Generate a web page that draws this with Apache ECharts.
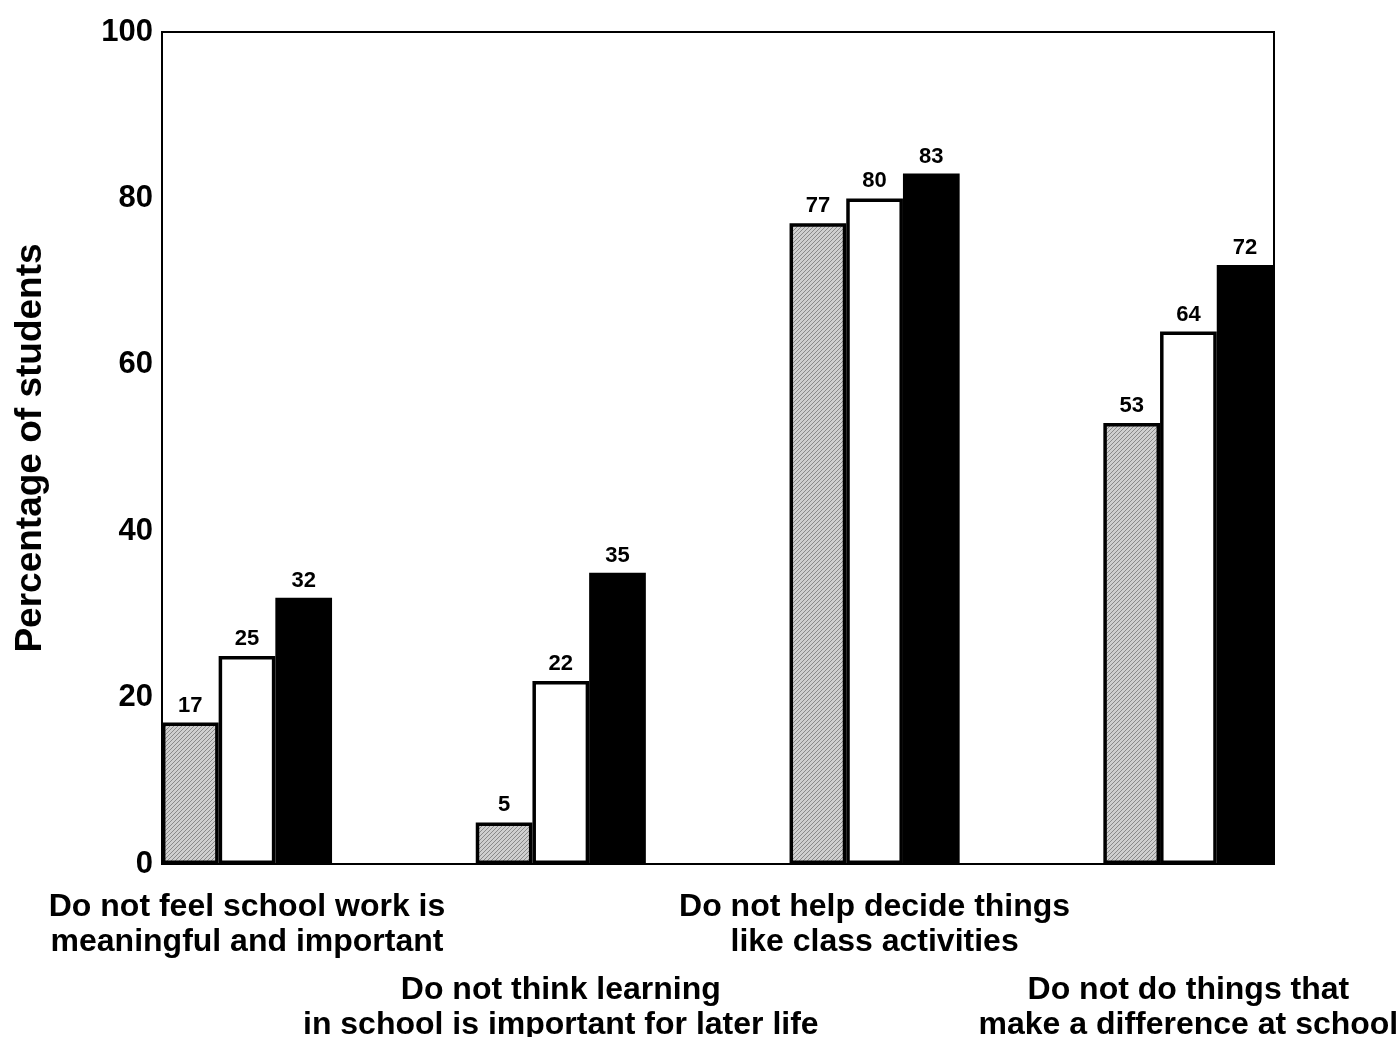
<!DOCTYPE html>
<html><head><meta charset="utf-8">
<script src="https://cdn.jsdelivr.net/npm/echarts@6/dist/echarts.min.js"></script>
<style>html,body{margin:0;padding:0;background:#fff}#c{width:1400px;height:1037px}</style>
</head><body><div id="c"></div>
<script>
const categories = [
  'Do not feel school work is\nmeaningful and important',
  'Do not think learning\nin school is important for later life',
  'Do not help decide things\nlike class activities',
  'Do not do things that\nmake a difference at school'
];
const seriesA = [17, 5, 77, 53];   // hatched
const seriesB = [25, 22, 80, 64];  // white
const seriesC = [32, 35, 83, 72];  // black
const yTicks = [0, 20, 40, 60, 80, 100];

function hatch() {
  const c = document.createElement('canvas');
  c.width = 4; c.height = 4;
  const g = c.getContext('2d');
  g.fillStyle = '#cfcfcf'; g.fillRect(0, 0, 4, 4);
  g.fillStyle = '#8a8a8a';
  for (let i = 0; i < 4; i++) { g.fillRect(3 - i, i, 1, 1); }
  return c;
}

const FONT = 'Liberation Sans, Arial, sans-serif';
const chart = echarts.init(document.getElementById('c'), null, {renderer: 'canvas'});
const labelCfg = {show: true, position: 'top', distance: 6, color: '#000', fontFamily: FONT, fontWeight: 'bold', fontSize: 22};
const common = {type: 'bar', xAxisIndex: 1, yAxisIndex: 1, barWidth: 56.7, barGap: '0%', label: labelCfg};

chart.setOption({
  animation: false,
  grid: [
    {left: 162, right: 126, top: 32, bottom: 173, show: true, borderColor: '#000', borderWidth: 2,
     backgroundColor: 'transparent', containLabel: false, outerBoundsMode: 'none'},
    {left: 90.1, right: 54.7, top: 32, bottom: 173, containLabel: false, outerBoundsMode: 'none'}
  ],
  xAxis: [
    {gridIndex: 0, type: 'value', min: 0, max: 1, show: false},
    {gridIndex: 1, type: 'category', data: categories,
     axisLine: {show: false}, axisTick: {show: false},
     axisLabel: {interval: 0, margin: 26, color: '#000',
       formatter: function (v, i) {
         const lines = v.split('\n').map(s => '{t|' + s + '}').join('\n');
         return (i % 2 === 1) ? '{gap|}\n' + lines : lines;
       },
       rich: {
         t: {fontFamily: FONT, fontWeight: 'bold', fontSize: 32, lineHeight: 35, color: '#000'},
         gap: {fontSize: 10, lineHeight: 83, height: 83}
       }
     }}
  ],
  yAxis: [
    {gridIndex: 0, type: 'value', min: 0, max: 100, interval: 20,
     axisLine: {show: true, lineStyle: {color: '#000', width: 2}}, axisTick: {show: false},
     splitLine: {show: false},
     axisLabel: {margin: 9, color: '#000', fontFamily: FONT, fontWeight: 'bold', fontSize: 31,
       formatter: v => yTicks.includes(v) ? String(v) : ''},
     name: 'Percentage of students', nameLocation: 'middle', nameGap: 113, nameRotate: 90,
     nameTextStyle: {color: '#000', fontFamily: FONT, fontWeight: 'bold', fontSize: 37}
    },
    {gridIndex: 1, type: 'value', min: 0, max: 100, show: false}
  ],
  series: [
    Object.assign({}, common, {name: 'A', data: seriesA,
      itemStyle: {color: {image: hatch(), repeat: 'repeat'}, borderColor: '#000', borderWidth: 3.5}}),
    Object.assign({}, common, {name: 'B', data: seriesB,
      itemStyle: {color: '#fff', borderColor: '#000', borderWidth: 3.5}}),
    Object.assign({}, common, {name: 'C', data: seriesC,
      itemStyle: {color: '#000', borderColor: '#000', borderWidth: 3.5}})
  ]
});
</script></body></html>
